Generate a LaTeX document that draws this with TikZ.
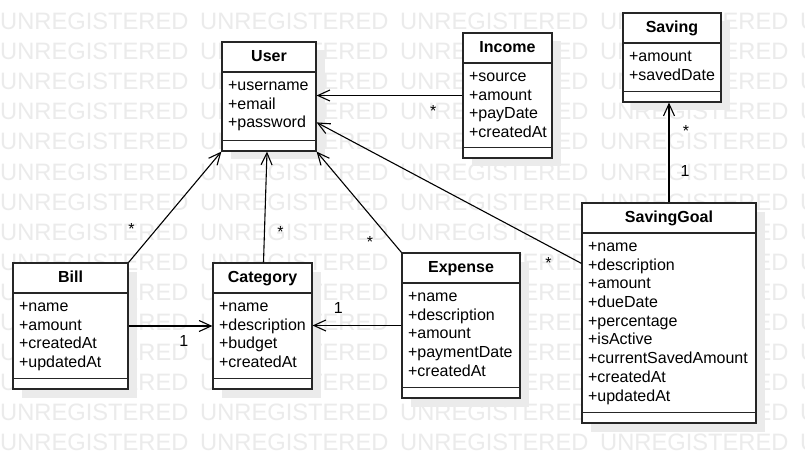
\documentclass[tikz,border=0pt]{standalone}
\usepackage{fontspec}
\setmainfont{Liberation Sans}
\usetikzlibrary{arrows.meta}
\usetikzlibrary{shadows}
\usetikzlibrary{positioning}

\begin{document}
\begin{tikzpicture}[x=1pt, y=-1pt,
    wmark/.style={anchor=base west, inner sep=0pt, text=black!8, font=\fontsize{23.7}{24}\selectfont},
    cls/.style={draw=black!85, fill=white, line width=1.2pt, inner sep=0pt,
      drop shadow={shadow xshift=8.5pt, shadow yshift=-8.5pt, fill=black!8, opacity=1}},
    divider/.style={draw=black!85, line width=1.2pt},
    clsname/.style={anchor=base, inner sep=0pt, font=\fontsize{16}{18.7}\selectfont\bfseries},
    clsattr/.style={anchor=base west, inner sep=0pt, font=\fontsize{16}{18.7}\selectfont},
    assoc/.style={-{Straight Barb[length=12pt, width=11pt]}, line width=1.1pt},
    lbl/.style={inner sep=0pt, font=\fontsize{16}{18.7}\selectfont}]
  \useasboundingbox (0,0) rectangle (805,473);
  \fill[white] (0,0) rectangle (805,473);

  % watermark
  \foreach \r in {0,...,14}
    \foreach \c in {0,...,4}
      \node[wmark] (wm-\r-\c) at (200*\c, 30+30*\r) {UNREGISTERED};

  % User
  \node[cls, minimum width=94pt, minimum height=109pt] (user) at (269,96.5) {};
  \node[clsname] (user-t) at ([yshift=-20.3pt]user.north) {User};
  \draw[divider] ([yshift=-30.6pt]user.north west) -- ([yshift=-30.6pt]user.north east);
  \draw[divider] ([yshift=11pt]user.south west) -- ([yshift=11pt]user.south east);
  \foreach \a [count=\i] in {username,email,password}
    \node[clsattr] (user-\i) at ([xshift=6.5pt,yshift=-30.3pt-\i*18.7pt]user.north west) {+\a};

  % Income
  \node[cls, minimum width=89pt, minimum height=125pt] (income) at (507.5,95.5) {};
  \node[clsname] (income-t) at ([yshift=-20.3pt]income.north) {Income};
  \draw[divider] ([yshift=-30.6pt]income.north west) -- ([yshift=-30.6pt]income.north east);
  \draw[divider] ([yshift=11pt]income.south west) -- ([yshift=11pt]income.south east);
  \foreach \a [count=\i] in {source,amount,payDate,createdAt}
    \node[clsattr] (income-\i) at ([xshift=6.5pt,yshift=-30.3pt-\i*18.7pt]income.north west) {+\a};

  % Saving
  \node[cls, minimum width=98pt, minimum height=89pt] (saving) at (672,57.5) {};
  \node[clsname] (saving-t) at ([yshift=-20.3pt]saving.north) {Saving};
  \draw[divider] ([yshift=-30.6pt]saving.north west) -- ([yshift=-30.6pt]saving.north east);
  \draw[divider] ([yshift=11pt]saving.south west) -- ([yshift=11pt]saving.south east);
  \foreach \a [count=\i] in {amount,savedDate}
    \node[clsattr] (saving-\i) at ([xshift=6.5pt,yshift=-30.3pt-\i*18.7pt]saving.north west) {+\a};

  % Bill
  \node[cls, minimum width=115pt, minimum height=126pt] (bill) at (70.5,326) {};
  \node[clsname] (bill-t) at ([yshift=-20.3pt]bill.north) {Bill};
  \draw[divider] ([yshift=-30.6pt]bill.north west) -- ([yshift=-30.6pt]bill.north east);
  \draw[divider] ([yshift=11pt]bill.south west) -- ([yshift=11pt]bill.south east);
  \foreach \a [count=\i] in {name,amount,createdAt,updatedAt}
    \node[clsattr] (bill-\i) at ([xshift=6.5pt,yshift=-30.3pt-\i*18.7pt]bill.north west) {+\a};

  % Category
  \node[cls, minimum width=99pt, minimum height=126pt] (category) at (262.5,326) {};
  \node[clsname] (category-t) at ([yshift=-20.3pt]category.north) {Category};
  \draw[divider] ([yshift=-30.6pt]category.north west) -- ([yshift=-30.6pt]category.north east);
  \draw[divider] ([yshift=11pt]category.south west) -- ([yshift=11pt]category.south east);
  \foreach \a [count=\i] in {name,description,budget,createdAt}
    \node[clsattr] (category-\i) at ([xshift=6.5pt,yshift=-30.3pt-\i*18.7pt]category.north west) {+\a};

  % Expense
  \node[cls, minimum width=118pt, minimum height=145pt] (expense) at (461,325.5) {};
  \node[clsname] (expense-t) at ([yshift=-20.3pt]expense.north) {Expense};
  \draw[divider] ([yshift=-30.6pt]expense.north west) -- ([yshift=-30.6pt]expense.north east);
  \draw[divider] ([yshift=11pt]expense.south west) -- ([yshift=11pt]expense.south east);
  \foreach \a [count=\i] in {name,description,amount,paymentDate,createdAt}
    \node[clsattr] (expense-\i) at ([xshift=6.5pt,yshift=-30.3pt-\i*18.7pt]expense.north west) {+\a};

  % SavingGoal
  \node[cls, minimum width=174pt, minimum height=220pt] (savinggoal) at (669,313) {};
  \node[clsname] (savinggoal-t) at ([yshift=-20.3pt]savinggoal.north) {SavingGoal};
  \draw[divider] ([yshift=-30.6pt]savinggoal.north west) -- ([yshift=-30.6pt]savinggoal.north east);
  \draw[divider] ([yshift=11pt]savinggoal.south west) -- ([yshift=11pt]savinggoal.south east);
  \foreach \a [count=\i] in {name,description,amount,dueDate,percentage,isActive,currentSavedAmount,createdAt,updatedAt}
    \node[clsattr] (savinggoal-\i) at ([xshift=6.5pt,yshift=-30.3pt-\i*18.7pt]savinggoal.north west) {+\a};

  % associations
  \draw[assoc] (income.west) -- (income.west -| user.east)
    node[lbl, pos=0.2, yshift=-15pt] (m-inc) {*};
  \draw[assoc] ([yshift=-61pt]savinggoal.north west) -- ([yshift=-81pt]user.north east)
    node[lbl, pos=0.124, yshift=-17pt] (m-sg) {*};
  \draw[assoc] (expense.north west) -- (user.south east)
    node[lbl, pos=0.1, xshift=-23pt] (m-exp) {*};
  \draw[assoc] (bill.north east) -- (user.south west)
    node[lbl, pos=0.3, xshift=-25pt] (m-bill) {*};
  \draw[assoc] ([xshift=1pt]category.north) -- ([xshift=-2pt]user.south)
    node[lbl, pos=0.27, xshift=16pt] (m-cat) {*};
  \draw[assoc] (bill.east) -- (category.west)
    node[lbl, pos=0.66, yshift=-14.7pt] (one-bill) {1};
  \draw[assoc] (expense.west) -- (expense.west -| category.east)
    node[lbl, pos=0.71, yshift=17.2pt] (one-exp) {1};
  \draw[assoc] (savinggoal.north) -- (savinggoal.north |- saving.south)
    node[lbl, pos=0.31, xshift=16pt] (one-sg) {1}
    node[lbl, pos=0.72, xshift=17pt] (m-sav) {*};
\end{tikzpicture}
\end{document}
